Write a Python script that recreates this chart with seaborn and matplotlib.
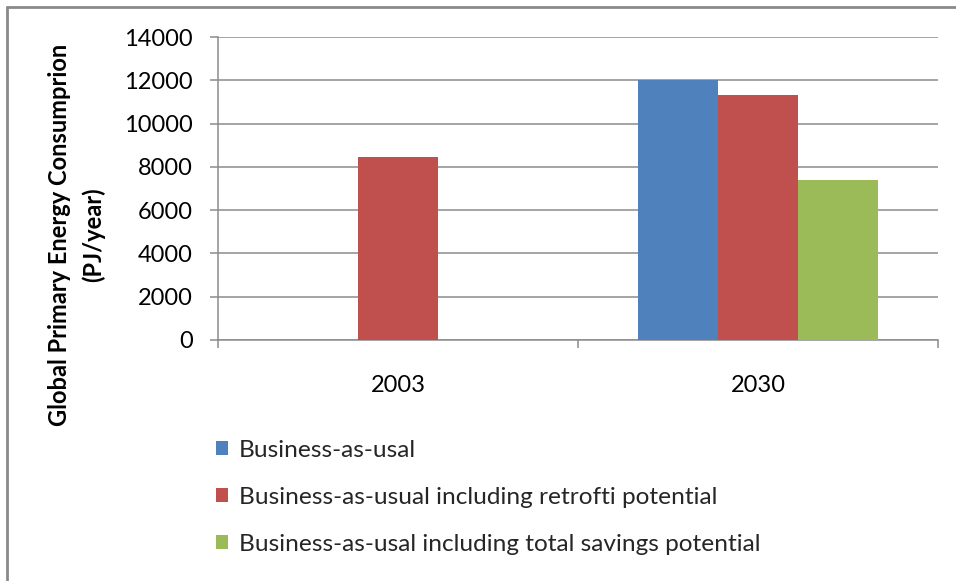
import numpy as np
import pandas as pd
import matplotlib
matplotlib.use("Agg")
import matplotlib.pyplot as plt
from matplotlib.lines import Line2D
from matplotlib.patches import Patch
import seaborn as sns

# Values in PJ/year
years = ["2003", "2030"]
series_names = [
    "Business-as-usal",
    "Business-as-usual including retrofti potential",
    "Business-as-usal including total savings potential",
]
business_as_usual = [np.nan, 12000]
retrofit_potential = [8450, 11300]
total_savings = [np.nan, 7400]
y_ticks = [0, 2000, 4000, 6000, 8000, 10000, 12000, 14000]
y_title = ["Global Primary Energy Consumprion", "(PJ/year)"]
colors = ["#4F81BD", "#C0504D", "#9BBB59"]

df = pd.DataFrame({
    "year": years * 3,
    "series": [series_names[0]] * 2 + [series_names[1]] * 2 + [series_names[2]] * 2,
    "value": business_as_usual + retrofit_potential + total_savings,
}).dropna()

sns.set_style("white")
plt.rcParams["font.family"] = ["Lato", "DejaVu Sans"]

W, H = 956, 581
fig = plt.figure(figsize=(W / 100, H / 100), dpi=100)
ax = fig.add_axes([218 / W, 1 - 340 / H, 720 / W, 303 / H])

sns.barplot(data=df, x="year", y="value", hue="series", order=years,
            hue_order=series_names, palette=colors, width=2 / 3,
            saturation=1, linewidth=0, ax=ax, legend=True, zorder=3)

grid_c = "#8C8C8C"
ax.set_ylim(0, 14000)
ax.set_xlim(-0.5, 1.5)
ax.set_yticks(y_ticks)
ax.set_yticklabels([str(v) for v in y_ticks])
ax.yaxis.grid(True, color=grid_c, linewidth=1.1, zorder=0)
ax.set_axisbelow(True)
for s in ["top", "right"]:
    ax.spines[s].set_visible(False)
for s in ["left", "bottom"]:
    ax.spines[s].set_color(grid_c)
    ax.spines[s].set_linewidth(1.1)

ax.tick_params(axis="y", which="major", length=6, color=grid_c, width=1.1,
               pad=12, labelsize=17, labelcolor="#000000", left=True)
ax.set_xticks([-0.5, 0.5, 1.5], minor=True)
ax.tick_params(axis="x", which="minor", length=6, color=grid_c, width=1.1,
               bottom=True)
ax.tick_params(axis="x", which="major", length=0, pad=25, labelsize=17,
               labelcolor="#000000")
ax.set_xlabel("")
ax.set_ylabel("")

# two-line rotated axis title, each line placed on its own column
for line, xc in zip(y_title, [60, 93]):
    fig.text(xc / W, 1 - 235 / H, line, rotation=90, ha="center",
             va="center", fontsize=17, fontweight="bold", color="#000000")

ax.get_legend().remove()
handles = [Patch(facecolor=c, edgecolor="none") for c in colors]
fig.legend(handles, series_names, loc="upper left",
           bbox_to_anchor=(216 / W, 1 - 440 / H), frameon=False,
           fontsize=17.6, handlelength=0.5, handleheight=0.5,
           handletextpad=0.45, labelspacing=1.06, borderaxespad=0,
           borderpad=0)

# chart frame (top and left edges visible)
frame_c = "#8A8A8A"
fig.add_artist(Line2D([7 / W, 1.0], [1 - 7 / H, 1 - 7 / H], color=frame_c,
                      linewidth=2, transform=fig.transFigure))
fig.add_artist(Line2D([7 / W, 7 / W], [0.0, 1 - 7 / H], color=frame_c,
                      linewidth=2, transform=fig.transFigure))

fig.savefig("out.png", dpi=100, facecolor="white")
